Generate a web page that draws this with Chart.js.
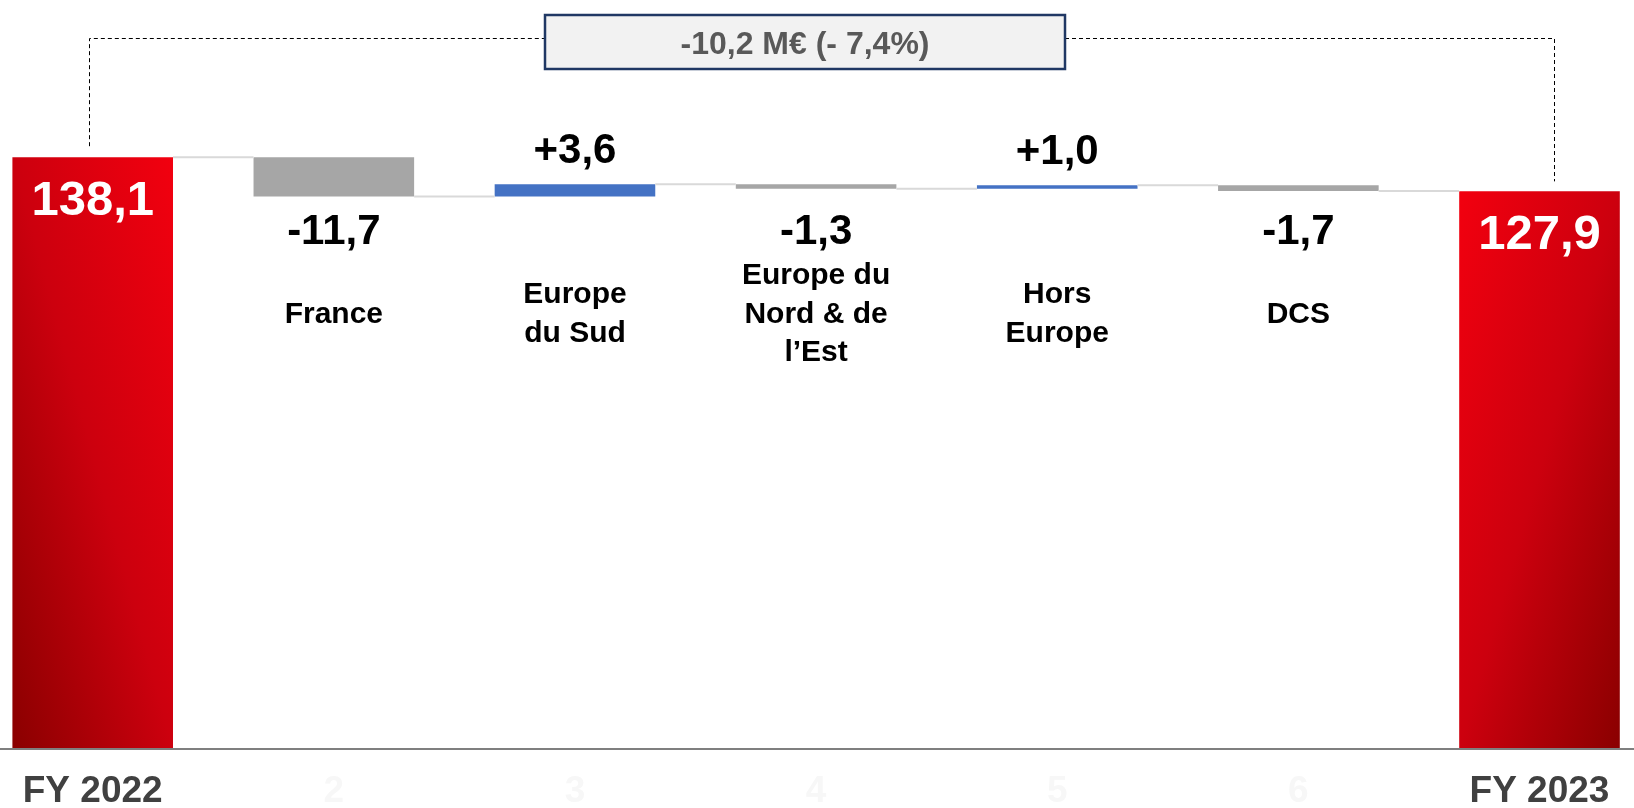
<!DOCTYPE html>
<html>
<head>
<meta charset="utf-8">
<script src="https://cdn.jsdelivr.net/npm/chart.js@4.4.0/dist/chart.umd.min.js"></script>
<style>
  html, body { margin: 0; padding: 0; background: #fff; }
  #wrap { width: 1634px; height: 808px; }
</style>
</head>
<body>
<div id="wrap"><canvas id="chart" width="1634" height="808"></canvas></div>
<script>
// data
const tickLabels = ["FY 2022", "2", "3", "4", "5", "6", "FY 2023"];
const categoryNames = [null, ["France"], ["Europe", "du Sud"], ["Europe du", "Nord & de", "l’Est"], ["Hors", "Europe"], ["DCS"], null];
const startTotal = 138.1;
const endTotal = 127.9;
const deltas = [-11.7, 3.6, -1.3, 1.0, -1.7];
const gapLabel = "-10,2 M€ (- 7,4%)";

const Y_MIN = -38.5;
const Y_MAX = 185;
const CAT_PCT = 0.666;
const FONT = "'Liberation Sans', Arial, sans-serif";

// waterfall ranges
const levels = [startTotal];
const ranges = [[Y_MIN, startTotal]];
let level = startTotal;
deltas.forEach(d => {
  const next = +(level + d).toFixed(1);
  ranges.push([Math.min(level, next), Math.max(level, next)]);
  level = next;
  levels.push(level);
});
ranges.push([Y_MIN, endTotal]);
levels.push(endTotal);
const values = [startTotal, ...deltas, endTotal];

function fmt(v, sign) {
  const s = Math.abs(v).toFixed(1).replace(".", ",");
  if (!sign) return s;
  return (v < 0 ? "-" : "+") + s;
}

function barColor(c) {
  const i = c.dataIndex;
  if (i > 0 && i < 6) return deltas[i - 1] < 0 ? "#a6a6a6" : "#4472c4";
  const chart = c.chart;
  const xs = chart.scales.x, ys = chart.scales.y;
  if (!chart.chartArea || !xs || !ys) return "#d4000f";
  const cx = xs.getPixelForValue(i);
  const w = (xs.getPixelForValue(1) - xs.getPixelForValue(0)) * CAT_PCT;
  const yTop = ys.getPixelForValue(values[i]);
  const yBot = ys.getPixelForValue(Y_MIN);
  const h = yBot - yTop;
  const dirX = i === 0 ? 1 : -1;
  const a = dirX / (2 * w), b = -1 / (2 * h);
  const x0 = i === 0 ? cx - w / 2 : cx + w / 2;
  const n = a * a + b * b;
  const g = chart.ctx.createLinearGradient(x0, yBot, x0 + a / n, yBot + b / n);
  g.addColorStop(0, "#8a0000");
  g.addColorStop(0.5, "#cc000e");
  g.addColorStop(1, "#f2000f");
  return g;
}

const overlay = {
  id: "overlay",
  afterDatasetsDraw(chart) {
    const { ctx, chartArea } = chart;
    const y = chart.scales.y;
    const bars = chart.getDatasetMeta(0).data;
    ctx.save();

    // connectors between bars
    ctx.strokeStyle = "#d9d9d9";
    ctx.lineWidth = 2;
    for (let i = 0; i < bars.length - 1; i++) {
      const yy = y.getPixelForValue(levels[i]);
      ctx.beginPath();
      ctx.moveTo(bars[i].x + bars[i].width / 2, yy);
      ctx.lineTo(bars[i + 1].x - bars[i + 1].width / 2, yy);
      ctx.stroke();
    }

    // base line across the whole width
    ctx.strokeStyle = "#7f7f7f";
    ctx.lineWidth = 2;
    ctx.beginPath();
    ctx.moveTo(0, chartArea.bottom);
    ctx.lineTo(chart.width, chartArea.bottom);
    ctx.stroke();

    // value labels
    ctx.textAlign = "center";
    ctx.textBaseline = "alphabetic";
    const lowest = y.getPixelForValue(Math.min(...levels.slice(0, 6)));
    bars.forEach((bar, i) => {
      const top = Math.min(bar.y, bar.base);
      if (i === 0 || i === 6) {
        ctx.fillStyle = "#ffffff";
        ctx.font = "bold 49px " + FONT;
        ctx.fillText(fmt(values[i], false), bar.x, top + 58);
      } else {
        ctx.fillStyle = "#000000";
        ctx.font = "bold 42px " + FONT;
        const v = values[i];
        if (v < 0) ctx.fillText(fmt(v, true), bar.x, lowest + 48);
        else ctx.fillText(fmt(v, true), bar.x, top - 21);
      }
    });

    // category names inside the plot
    ctx.fillStyle = "#000000";
    ctx.font = "bold 30px " + FONT;
    bars.forEach((bar, i) => {
      const lines = categoryNames[i];
      if (!lines) return;
      lines.forEach((t, j) => {
        const cy = 312 + (j - (lines.length - 1) / 2) * 38.5;
        ctx.fillText(t, bar.x, cy + 10.7);
      });
    });

    // dashed bracket and gap box
    const boxL = 545, boxR = 1065, boxT = 15, boxB = 69, lineY = 38.5;
    const first = bars[0], last = bars[bars.length - 1];
    const lx = Math.round(first.x - 4) + 0.5, rx = Math.round(last.x + 14) + 0.5;
    ctx.strokeStyle = "#000000";
    ctx.lineWidth = 1;
    ctx.setLineDash([4, 3]);
    ctx.beginPath();
    ctx.moveTo(lx, first.y - 11);
    ctx.lineTo(lx, lineY);
    ctx.lineTo(boxL, lineY);
    ctx.moveTo(boxR, lineY);
    ctx.lineTo(rx, lineY);
    ctx.lineTo(rx, last.y - 10);
    ctx.stroke();
    ctx.setLineDash([]);

    ctx.fillStyle = "#f2f2f2";
    ctx.fillRect(boxL, boxT, boxR - boxL, boxB - boxT);
    ctx.strokeStyle = "#203864";
    ctx.lineWidth = 2.5;
    ctx.strokeRect(boxL, boxT, boxR - boxL, boxB - boxT);
    ctx.fillStyle = "#595959";
    ctx.font = "bold 32px " + FONT;
    ctx.fillText(gapLabel, (boxL + boxR) / 2, (boxT + boxB) / 2 + 11.5);

    ctx.restore();
  }
};

new Chart(document.getElementById("chart"), {
  type: "bar",
  data: {
    labels: tickLabels,
    datasets: [{
      data: ranges,
      backgroundColor: barColor,
      borderWidth: 0,
      categoryPercentage: CAT_PCT,
      barPercentage: 1,
      clip: false
    }]
  },
  options: {
    responsive: false,
    animation: false,
    layout: { padding: { left: 92.7, right: 94.5, top: 0, bottom: 0 } },
    plugins: { legend: { display: false }, tooltip: { enabled: false } },
    scales: {
      x: {
        offset: false,
        grid: { display: false },
        border: { display: false },
        afterFit: s => { s.height = 59; },
        ticks: {
          autoSkip: false,
          maxRotation: 0,
          padding: 13,
          font: { family: FONT, weight: "bold", size: 37 },
          color: c => (c.index === 0 || c.index === 6) ? "#404040" : "#f7f7f7"
        }
      },
      y: {
        display: false,
        min: Y_MIN,
        max: Y_MAX
      }
    }
  },
  plugins: [overlay]
});
</script>
</body>
</html>
